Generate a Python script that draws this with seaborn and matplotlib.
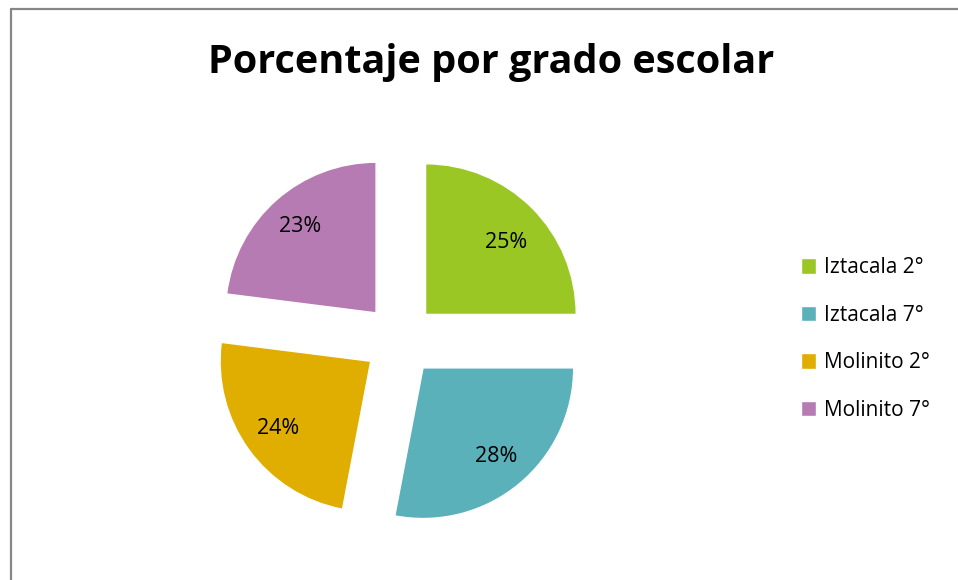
import matplotlib
matplotlib.use("Agg")
import matplotlib.pyplot as plt
import seaborn as sns
from matplotlib.lines import Line2D

sns.set_theme(style="white")
plt.rcParams['font.family'] = ['Open Sans', 'DejaVu Sans']
plt.rcParams['text.color'] = 'black'

labels = ['Iztacala 2°', 'Iztacala 7°', 'Molinito 2°', 'Molinito 7°']
values = [25, 28, 24, 23]
colors = ['#9BC724', '#5AB1BA', '#E0AE00', '#B77BB4']

fig = plt.figure(figsize=(9.58, 5.8), dpi=100)
fig.patch.set_facecolor('white')

## pie axes: centre ~ (399, 340) px, radius ~151 px
ax = fig.add_axes([174 / 958, 14 / 580, 452 / 958, 452 / 580])
wedges, texts, autotexts = ax.pie(
    values,
    colors=colors,
    startangle=90,
    counterclock=False,
    explode=[0.24] * 4,
    autopct='%1.0f%%',
    pctdistance=0.76,
    textprops={'fontsize': 15.5, 'color': 'black'},
)
## the first label sits a little lower in the original
x0, y0 = autotexts[0].get_position()
autotexts[0].set_position((x0, y0 - 0.06))
ax.set_xlim(-1.5, 1.5)
ax.set_ylim(-1.5, 1.5)
ax.set_aspect('equal')
ax.axis('off')

fig.text(491 / 958, 1 - 62 / 580, 'Porcentaje por grado escolar',
         ha='center', va='center', fontsize=28.5, fontweight='bold')

fig.legend(wedges, labels, loc='center left',
           bbox_to_anchor=(782 / 958, 1 - 339 / 580),
           frameon=False, fontsize=15, handlelength=0.75, handleheight=0.75,
           handletextpad=0.35, labelspacing=1.27)

## chart frame (only top and left edges visible)
fig.add_artist(Line2D([11 / 958, 1], [1 - 9 / 580, 1 - 9 / 580],
                      transform=fig.transFigure, color='#868686', lw=1.6))
fig.add_artist(Line2D([11 / 958, 11 / 958], [0, 1 - 9 / 580],
                      transform=fig.transFigure, color='#868686', lw=1.6))

fig.savefig('out.png', dpi=100)
